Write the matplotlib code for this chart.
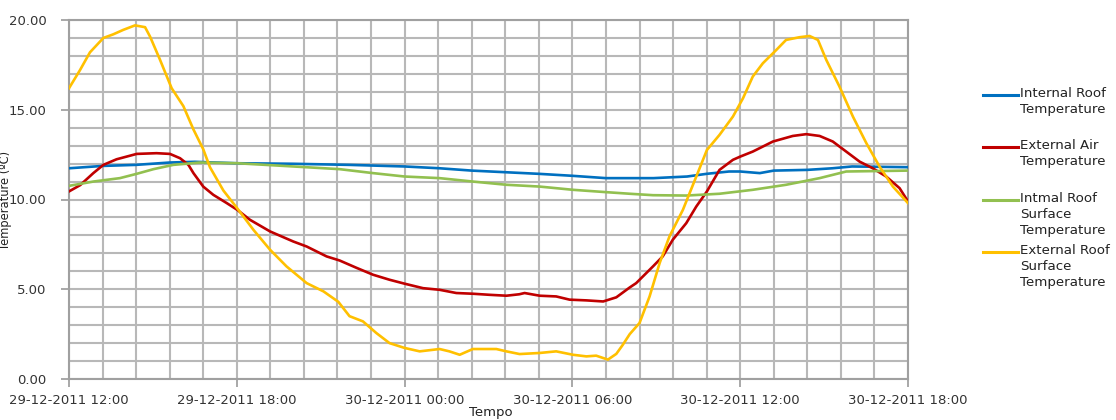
import matplotlib
matplotlib.use("Agg")
import matplotlib.pyplot as plt
from matplotlib.ticker import MultipleLocator, FixedLocator
from matplotlib.lines import Line2D

# hours after 29-12-2011 12:00
blue_t = [0, 1.2, 2.4, 3.6, 4.5, 6, 8, 10, 12, 13.25, 14.4, 15.6, 16.8, 18, 19.2, 20, 20.9,
          22.1, 22.8, 23.6, 24, 24.7, 25.2, 26.4, 27.3, 28, 30]
blue_v = [11.74, 11.87, 11.93, 12.06, 12.1, 12.02, 11.99, 11.93, 11.84, 11.74, 11.61, 11.52,
          11.43, 11.32, 11.19, 11.19, 11.19, 11.28, 11.43, 11.56, 11.56, 11.47, 11.61, 11.65,
          11.74, 11.84, 11.8]

red_t = [0, 0.4, 0.87, 1.23, 1.7, 2.42, 3.13, 3.61, 3.97, 4.27, 4.45, 4.8, 5.16, 5.64, 6.02,
         6.47, 7.19, 8.02, 8.5, 9.21, 9.68, 10.27, 10.87, 11.46, 12, 12.66, 13.25, 13.85, 14.44,
         15.04, 15.64, 16.1, 16.29, 16.83, 17.42, 17.9, 18.5, 19.1, 19.57, 20.05, 20.28, 20.88,
         21.23, 21.59, 22.07, 22.43, 22.81, 23.26, 23.74, 24, 24.45, 25.17, 25.88, 26.36, 26.84,
         27.31, 27.79, 28.27, 28.74, 29.22, 29.7, 30]
red_v = [10.45, 10.8, 11.47, 11.93, 12.24, 12.54, 12.58, 12.54, 12.3, 11.93, 11.47, 10.72,
         10.26, 9.8, 9.42, 8.87, 8.22, 7.66, 7.38, 6.83, 6.6, 6.2, 5.81, 5.53, 5.31, 5.06, 4.97,
         4.79, 4.75, 4.69, 4.64, 4.72, 4.79, 4.64, 4.6, 4.42, 4.38, 4.32, 4.55, 5.1, 5.34, 6.27,
         6.83, 7.76, 8.68, 9.61, 10.45, 11.65, 12.21, 12.39, 12.67, 13.23, 13.54, 13.64, 13.54,
         13.23, 12.67, 12.11, 11.74, 11.28, 10.63, 9.89]

green_t = [0, 0.87, 1.82, 2.42, 3.02, 3.73, 4.68, 6.02, 8.02, 9.68, 10.87, 12, 13.25, 14.44,
           15.64, 16.83, 18.02, 19.2, 20.05, 20.88, 22.07, 23.26, 24.45, 25.64, 26.84, 27.79, 30]
green_v = [10.76, 11.0, 11.19, 11.43, 11.69, 11.93, 12.06, 12.02, 11.84, 11.69, 11.47, 11.28,
           11.19, 11.0, 10.82, 10.72, 10.54, 10.41, 10.32, 10.24, 10.22, 10.32, 10.54, 10.82,
           11.19, 11.56, 11.61]

yellow_t = [0, 0.39, 0.75, 1.23, 1.58, 1.94, 2.36, 2.72, 2.9, 3.25, 3.67, 4.09, 4.45, 4.8, 5.04,
            5.52, 6.02, 6.6, 7.19, 7.78, 8.5, 9.1, 9.63, 10.03, 10.51, 10.99, 11.46, 12, 12.54,
            13.25, 13.6, 13.97, 14.44, 15.28, 15.64, 16.11, 16.83, 17.42, 18.02, 18.5, 18.85,
            19.27, 19.57, 19.8, 20.05, 20.4, 20.76, 21.12, 21.47, 21.95, 22.43, 22.81, 23.26,
            23.74, 24.1, 24.45, 24.81, 25.29, 25.64, 26.12, 26.48, 26.78, 27.08, 27.55, 28.03,
            28.51, 28.98, 29.46, 30]
yellow_v = [16.2, 17.2, 18.2, 19.0, 19.2, 19.45, 19.7, 19.6, 19.07, 17.8, 16.2, 15.2, 13.9, 12.8,
            11.8, 10.5, 9.5, 8.3, 7.2, 6.27, 5.34, 4.88, 4.3, 3.5, 3.21, 2.56, 2.0, 1.73, 1.54,
            1.67, 1.54, 1.35, 1.67, 1.67, 1.54, 1.39, 1.45, 1.54, 1.35, 1.26, 1.3, 1.08, 1.4, 1.9,
            2.5, 3.12, 4.6, 6.46, 7.94, 9.42, 11.28, 12.76, 13.6, 14.62, 15.64, 16.85, 17.59,
            18.33, 18.89, 19.04, 19.11, 18.89, 17.77, 16.29, 14.62, 13.14, 11.84, 10.72, 9.8]

tick_hours = [0, 6, 12, 18, 24, 30]
tick_labels = ["29-12-2011 12:00", "29-12-2011 18:00", "30-12-2011 00:00",
               "30-12-2011 06:00", "30-12-2011 12:00", "30-12-2011 18:00"]

series = [
    (blue_t, blue_v, "#0070C0", "Internal Roof\nTemperature"),
    (red_t, red_v, "#C00000", "External Air\nTemperature"),
    (green_t, green_v, "#92C050", "Intmal Roof\nSurface\nTemperature"),
    (yellow_t, yellow_v, "#FFC000", "External Roof\nSurface\nTemperature"),
]

W, H = 1116, 420
fig = plt.figure(figsize=(W / 100, H / 100), dpi=100)
ax = fig.add_axes([69 / W, 1 - 379 / H, (908 - 69) / W, (379 - 20) / H])

grid_col = "#b8b8b8"
for t, v, c, lab in series:
    ax.plot(t, v, color=c, lw=1.9, zorder=3)

ax.set_xlim(0, 30)
ax.set_ylim(0, 20)
ax.xaxis.set_major_locator(FixedLocator(tick_hours))
ax.set_xticklabels(tick_labels)
ax.xaxis.set_minor_locator(MultipleLocator(1.2))
ax.yaxis.set_major_locator(MultipleLocator(5))
ax.yaxis.set_minor_locator(MultipleLocator(1))
ax.set_yticklabels([f"{y:.2f}" for y in ax.get_yticks()])
ax.grid(which="both", color=grid_col, lw=1.5, zorder=0)
ax.tick_params(which="minor", length=0)
ax.tick_params(which="major", length=6, color="#999999", width=1.2, labelsize=9.5,
               labelcolor="#333333")
ax.tick_params(axis="y", pad=10)
ax.tick_params(axis="x", pad=5)
for s in ax.spines.values():
    s.set_color("#a0a0a0")
    s.set_linewidth(1.5)

fig.text(6 / W, 1 - 200 / H, "Temperature (ºC)", rotation=90, ha="center", va="center",
         fontsize=8.3, color="#222222")
fig.text(491 / W, 1 - 419 / H, "Tempo", ha="center", va="bottom", fontsize=9.5,
         color="#222222")

# legend
entry_y = [95, 147, 200, 252]
for (t, v, c, lab), y in zip(series, entry_y):
    fig.add_artist(Line2D([983 / W, 1018 / W], [1 - y / H, 1 - y / H], color=c, lw=2.2))
    fig.text(1020 / W, 1 - (y - 8) / H, lab, ha="left", va="top", fontsize=9.6,
             linespacing=1.3, color="#222222")

fig.savefig("out.png", dpi=100)
